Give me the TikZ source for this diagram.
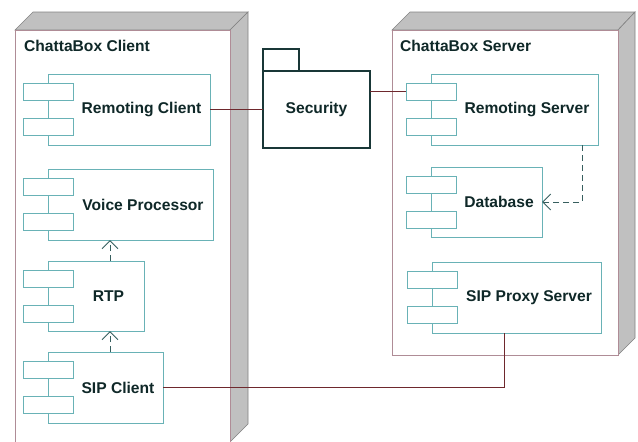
\documentclass[tikz,border=0pt]{standalone}
\usepackage{fontspec}
\setmainfont{Liberation Sans}
\usetikzlibrary{arrows.meta}
\definecolor{compc}{RGB}{105,178,182}
\definecolor{nodec}{RGB}{175,140,150}
\definecolor{sidec}{RGB}{192,192,192}
\definecolor{sidel}{RGB}{130,130,130}
\definecolor{connc}{RGB}{110,40,45}
\definecolor{depc}{RGB}{55,95,95}
\definecolor{secc}{RGB}{25,55,55}
\definecolor{txtc}{RGB}{15,40,40}
\tikzset{
  comp/.style={draw=compc, line width=0.9pt, fill=white, rectangle, inner sep=0pt, outer sep=0pt},
  port/.style={draw=compc, line width=0.9pt, fill=white, rectangle, inner sep=0pt, outer sep=0pt, minimum width=50pt, minimum height=17pt, anchor=north west},
  lbl/.style={font=\fontsize{15.6}{18}\selectfont\bfseries, text=txtc, inner sep=0pt},
  front/.style={draw=nodec, line width=0.9pt, fill=white},
  side/.style={draw=sidel, line width=0.6pt, fill=sidec},
  conn/.style={draw=connc, line width=1pt},
  dep/.style={draw=depc, line width=1pt, dash pattern=on 6pt off 4pt, -{Straight Barb[length=8pt,width=16pt]}},
  sec/.style={draw=secc, line width=1.6pt, fill=white, rectangle, inner sep=0pt, outer sep=0pt}
}
\newcommand\umlcomp[6]{%
  \node[comp, anchor=north west, minimum width={(#4-#2)*1pt}, minimum height={(#5-#3)*1pt}] (#1) at (#2,#3) {};
  \node[port] (#1p1) at ({#2-25},{#3+9}) {};
  \node[port] (#1p2) at ({#2-25},{#3+44}) {};
  \node[lbl] (#1t) at ({(#2+25+#4)/2},{(#3+#5)/2}) {#6};
}
\begin{document}
\begin{tikzpicture}[x=1pt,y=-1pt]
\useasboundingbox (0,0) rectangle (638,442);
% client node
\path[side] (15,30) -- (33,12) -- (248,12) -- (230,30) -- cycle;
\path[side] (230,30) -- (248,12) -- (248,424) -- (230,442) -- cycle;
\path[front] (15,30) rectangle (230,447);
\node[lbl, anchor=west] (clientt) at (24,46) {ChattaBox Client};
% server node
\path[side] (392,30) -- (410,12) -- (635,12) -- (618,30) -- cycle;
\path[side] (618,30) -- (635,12) -- (635,338) -- (618,355) -- cycle;
\path[front] (392,30) rectangle (618,355);
\node[lbl, anchor=west] (servert) at (400,46) {ChattaBox Server};
% components
\umlcomp{rc}{48}{74}{210}{145}{Remoting Client}
\umlcomp{vp}{48}{169}{213}{240}{Voice Processor}
\umlcomp{rtp}{48}{261}{144}{331}{RTP}
\umlcomp{sc}{48}{352}{163}{423}{SIP Client}
\umlcomp{rs}{431}{74}{598}{145}{Remoting Server}
\umlcomp{db}{431}{167}{542}{237}{Database}
\umlcomp{spx}{432}{262}{601}{333}{SIP Proxy Server}
% security package
\node[sec, anchor=south west, minimum width=36pt, minimum height=22pt] (sectab) at (263,71) {};
\node[sec, anchor=north west, minimum width=107pt, minimum height=77pt] (secm) at (263,71) {};
\node[lbl] (sect) at (secm.center) {Security};
% connectors
\draw[conn] (rc.east) -- (secm.west |- rc.east);
\draw[conn] (secm.east |- rsp1.west) -- (rsp1.west);
\draw[conn] (sc.east) -| ([xshift=-12.5pt]spx.south);
\draw[dep] (rtp.north -| 110,0) -- (vp.south -| 110,0);
\draw[dep] (sc.north -| 110,0) -- (rtp.south -| 110,0);
\draw[dep] ([xshift=-16pt]rs.south east) |- (db.east);
\end{tikzpicture}
\end{document}
